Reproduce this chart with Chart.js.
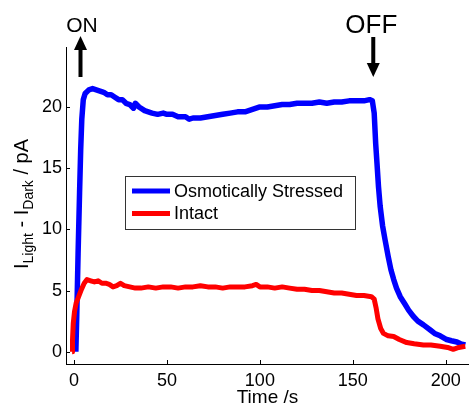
<!DOCTYPE html>
<html>
<head>
<meta charset="utf-8">
<script src="https://cdn.jsdelivr.net/npm/chart.js@4/dist/chart.umd.min.js"></script>
<style>
  html, body { margin: 0; padding: 0; background: #fff; }
  #wrap { width: 469px; height: 407px; position: relative; }
</style>
</head>
<body>
<div id="wrap"><canvas id="photo-chart"></canvas></div>
<script>
// values (time in s, current in pA)
const stressedTime = [1.0, 1.5, 2.2, 3.0, 3.6, 4.2, 5, 6, 8, 10, 12, 14, 16, 18, 20, 22, 24, 26, 28, 30, 32, 33, 35, 38, 40, 42, 45, 48, 50, 53, 56, 60, 62, 64, 68, 72, 76, 80, 84, 88, 92, 96, 100, 104, 108, 112, 116, 120, 124, 128, 132, 136, 140, 144, 148, 152, 156, 159, 160.5, 161.5, 162.3, 163, 163.8, 164.7, 166, 167.4, 169, 170.5, 172, 173.5, 175.5, 178, 180, 182.5, 185, 188, 191.5, 194, 197, 200.5, 203, 206, 208, 210.5];
const stressedCurrent = [0, 3, 8, 13, 16.5, 19, 20.6, 21.1, 21.4, 21.5, 21.4, 21.3, 21.2, 21.0, 21.0, 20.8, 20.6, 20.6, 20.3, 20.2, 19.9, 20.3, 20.0, 19.7, 19.6, 19.5, 19.4, 19.5, 19.4, 19.4, 19.2, 19.2, 19.0, 19.1, 19.1, 19.2, 19.3, 19.4, 19.5, 19.6, 19.6, 19.8, 20.0, 20.0, 20.1, 20.2, 20.2, 20.3, 20.3, 20.3, 20.4, 20.3, 20.4, 20.4, 20.5, 20.5, 20.5, 20.6, 20.5, 19.5, 17, 15.4, 13.5, 11.9, 10.3, 9.1, 7.8, 6.7, 5.9, 5.2, 4.5, 3.9, 3.4, 2.9, 2.5, 2.2, 1.8, 1.5, 1.3, 1.0, 0.9, 0.8, 0.65, 0.55];

const intactTime = [-1, -0.8, -0.4, 0.3, 1.2, 2.5, 4, 5.5, 7, 9, 11, 13, 15, 17, 19, 21, 23, 25, 27, 30, 33, 36, 40, 44, 48, 52, 56, 60, 64, 68, 72, 76, 80, 84, 88, 92, 96, 98, 100, 104, 108, 112, 116, 120, 124, 128, 132, 136, 140, 144, 148, 152, 156, 160, 161.5, 162.5, 163.5, 165, 166.5, 169, 172, 175, 179, 183, 188, 192, 197, 201, 204, 207, 210.5];
const intactCurrent = [0, 1, 2.3, 3.3, 4.0, 4.5, 5.1, 5.6, 5.9, 5.8, 5.7, 5.8, 5.6, 5.6, 5.5, 5.3, 5.4, 5.6, 5.4, 5.3, 5.2, 5.2, 5.3, 5.2, 5.3, 5.3, 5.2, 5.3, 5.3, 5.4, 5.3, 5.3, 5.2, 5.3, 5.3, 5.3, 5.4, 5.5, 5.3, 5.3, 5.2, 5.3, 5.2, 5.1, 5.1, 5.0, 5.0, 4.9, 4.8, 4.8, 4.7, 4.6, 4.6, 4.5, 4.3, 3.6, 2.7, 1.9, 1.5, 1.3, 1.25, 1.0, 0.75, 0.65, 0.55, 0.55, 0.45, 0.35, 0.2, 0.35, 0.45];

const seriesLabels = ['Osmotically Stressed', 'Intact'];
const seriesColors = ['#0000ff', '#ff0000'];
const xTicks = [0, 50, 100, 150, 200];
const yTicks = [0, 5, 10, 15, 20];
const lightOnAt = 3.5;
const lightOffAt = 161;

const FONT = '"Liberation Sans", Arial, sans-serif';

function toPoints(xs, ys) {
    return xs.map((x, i) => ({ x: x, y: ys[i] }));
}

// MATLAB style ticks pointing into the plot
const innerTicks = {
    id: 'innerTicks',
    afterDraw(chart) {
        const { ctx, scales: { x, y }, chartArea } = chart;
        ctx.save();
        ctx.strokeStyle = '#000';
        ctx.lineWidth = 1;
        ctx.beginPath();
        xTicks.forEach(v => {
            const px = Math.round(x.getPixelForValue(v)) + 0.5;
            ctx.moveTo(px, chartArea.bottom);
            ctx.lineTo(px, chartArea.bottom - 4);
        });
        yTicks.forEach(v => {
            const py = Math.round(y.getPixelForValue(v)) + 0.5;
            ctx.moveTo(chartArea.left, py);
            ctx.lineTo(chartArea.left + 4, py);
        });
        ctx.stroke();
        ctx.restore();
    }
};

// y title with subscripts: I_Light - I_Dark / pA
const yTitle = {
    id: 'yTitle',
    afterDraw(chart) {
        const { ctx } = chart;
        const parts = [
            ['I', false], ['Light', true], [' - ', false], ['I', false], ['Dark', true], [' / pA', false]
        ];
        const big = '20px ' + FONT, small = '14px ' + FONT;
        ctx.save();
        let total = 0;
        parts.forEach(p => { ctx.font = p[1] ? small : big; total += ctx.measureText(p[0]).width; });
        ctx.translate(28, 204);
        ctx.rotate(-Math.PI / 2);
        ctx.fillStyle = '#000';
        ctx.textBaseline = 'alphabetic';
        let pos = -total / 2;
        parts.forEach(p => {
            ctx.font = p[1] ? small : big;
            ctx.fillText(p[0], pos, p[1] ? 5 : 0);
            pos += ctx.measureText(p[0]).width;
        });
        ctx.restore();
    }
};

function arrow(ctx, x, yFrom, yTo) {
    // shaft from yFrom, head ending at yTo
    const dir = yTo > yFrom ? 1 : -1;
    const headLen = 14, headHalf = 6.5;
    ctx.lineWidth = 4;
    ctx.beginPath();
    ctx.moveTo(x, yFrom);
    ctx.lineTo(x, yTo - dir * headLen);
    ctx.stroke();
    ctx.beginPath();
    ctx.moveTo(x - headHalf, yTo - dir * headLen);
    ctx.lineTo(x + headHalf, yTo - dir * headLen);
    ctx.lineTo(x, yTo);
    ctx.closePath();
    ctx.fill();
}

const onOff = {
    id: 'onOff',
    afterDraw(chart) {
        const { ctx, scales: { x } } = chart;
        const xOn = x.getPixelForValue(lightOnAt);
        const xOff = x.getPixelForValue(lightOffAt);
        ctx.save();
        ctx.fillStyle = '#000';
        ctx.strokeStyle = '#000';
        ctx.textAlign = 'center';
        ctx.textBaseline = 'alphabetic';
        ctx.font = '21px ' + FONT;
        ctx.fillText('ON', xOn + 1.5, 32);
        ctx.font = '26px ' + FONT;
        ctx.fillText('OFF', xOff - 2, 33);
        arrow(ctx, xOn, 77, 36);
        arrow(ctx, xOff, 37, 77);
        ctx.restore();
    }
};

const boxLegend = {
    id: 'boxLegend',
    afterDraw(chart) {
        const { ctx } = chart;
        ctx.save();
        ctx.fillStyle = '#fff';
        ctx.fillRect(125.5, 176.5, 230, 53);
        ctx.strokeStyle = '#333';
        ctx.lineWidth = 1;
        ctx.strokeRect(125.5, 176.5, 230, 53);
        ctx.font = '18px ' + FONT;
        ctx.textBaseline = 'middle';
        const rows = [191, 213.5];
        seriesLabels.forEach((lab, i) => {
            ctx.strokeStyle = seriesColors[i];
            ctx.lineWidth = 5;
            ctx.beginPath();
            ctx.moveTo(132, rows[i]);
            ctx.lineTo(170, rows[i]);
            ctx.stroke();
            ctx.fillStyle = '#000';
            ctx.fillText(lab, 174, rows[i] + 1);
        });
        ctx.restore();
    }
};

const ctx = document.getElementById('photo-chart');
new Chart(ctx, {
    type: 'line',
    data: {
        datasets: [
            { label: seriesLabels[0], data: toPoints(stressedTime, stressedCurrent), borderColor: seriesColors[0], borderWidth: 5.5, order: 1 },
            { label: seriesLabels[1], data: toPoints(intactTime, intactCurrent), borderColor: seriesColors[1], borderWidth: 5, order: 0 }
        ]
    },
    options: {
        responsive: true, maintainAspectRatio: false, animation: false,
        layout: { padding: { top: 47, right: 0, left: 0, bottom: 0 } },
        elements: { point: { radius: 0 }, line: { tension: 0, borderJoinStyle: 'round', fill: false } },
        plugins: { legend: { display: false }, tooltip: { enabled: false } },
        scales: {
            x: {
                type: 'linear', min: -4.3, max: 212.5,
                grid: { display: false, drawTicks: false },
                border: { display: true, color: '#000', width: 1 },
                afterBuildTicks: (s) => { s.ticks = xTicks.map(v => ({ value: v })); },
                afterFit: (s) => { s.height = 43; },
                ticks: { color: '#000', padding: 6, maxRotation: 0, font: { family: FONT, size: 18 } },
                title: { display: true, text: 'Time /s', color: '#000', padding: 0, font: { family: FONT, size: 19, lineHeight: 1 } }
            },
            y: {
                type: 'linear', min: -1, max: 24.9,
                grid: { display: false, drawTicks: false },
                border: { display: true, color: '#000', width: 1 },
                afterBuildTicks: (s) => { s.ticks = yTicks.map(v => ({ value: v })); },
                afterFit: (s) => { s.width = 66; },
                ticks: { color: '#000', padding: 4, font: { family: FONT, size: 18 } }
            }
        }
    },
    plugins: [innerTicks, yTitle, onOff, boxLegend]
});
</script>
</body>
</html>
